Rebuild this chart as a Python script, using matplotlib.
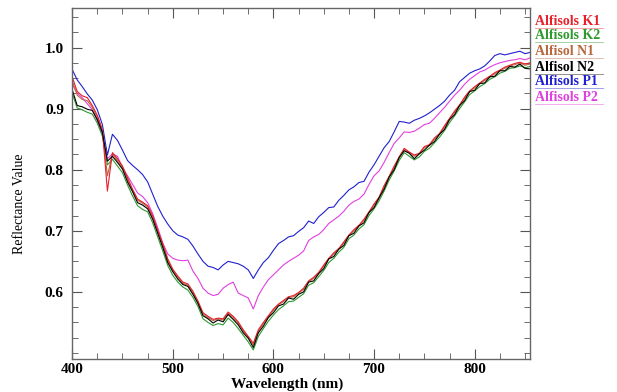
import matplotlib
matplotlib.use("Agg")
import matplotlib.pyplot as plt
from matplotlib.ticker import MultipleLocator
from matplotlib.lines import Line2D

# wavelength sampling (nm)
wavelength = list(range(400, 860, 5))

k1 = [0.952, 0.928, 0.921, 0.918, 0.905, 0.889, 0.866, 0.765, 0.828, 0.818,
      0.806, 0.787, 0.768, 0.752, 0.747, 0.741, 0.725, 0.701, 0.679, 0.654,
      0.637, 0.626, 0.616, 0.613, 0.601, 0.585, 0.566, 0.560, 0.555, 0.557,
      0.556, 0.567, 0.560, 0.551, 0.538, 0.527, 0.516, 0.538, 0.550, 0.561,
      0.572, 0.580, 0.586, 0.592, 0.594, 0.599, 0.606, 0.618, 0.624, 0.632,
      0.644, 0.655, 0.664, 0.671, 0.682, 0.693, 0.702, 0.709, 0.719, 0.731,
      0.744, 0.755, 0.774, 0.789, 0.806, 0.821, 0.835, 0.829, 0.824, 0.827,
      0.838, 0.841, 0.852, 0.859, 0.872, 0.884, 0.896, 0.906, 0.919, 0.929,
      0.936, 0.942, 0.948, 0.953, 0.959, 0.963, 0.968, 0.971, 0.974, 0.976,
      0.973, 0.975]

k2 = [0.925, 0.901, 0.898, 0.894, 0.891, 0.876, 0.855, 0.808, 0.817, 0.806,
      0.795, 0.775, 0.757, 0.741, 0.735, 0.731, 0.713, 0.690, 0.667, 0.643,
      0.627, 0.616, 0.608, 0.603, 0.591, 0.576, 0.556, 0.550, 0.545, 0.548,
      0.546, 0.557, 0.550, 0.540, 0.529, 0.518, 0.505, 0.527, 0.540, 0.552,
      0.562, 0.571, 0.577, 0.584, 0.585, 0.591, 0.597, 0.611, 0.615, 0.625,
      0.635, 0.648, 0.655, 0.665, 0.673, 0.687, 0.693, 0.703, 0.710, 0.725,
      0.736, 0.749, 0.765, 0.783, 0.798, 0.815, 0.828, 0.822, 0.816, 0.821,
      0.830, 0.835, 0.844, 0.853, 0.864, 0.877, 0.888, 0.900, 0.911, 0.923,
      0.929, 0.936, 0.941, 0.948, 0.952, 0.958, 0.961, 0.966, 0.967, 0.970,
      0.967, 0.969]

n1 = [0.946, 0.922, 0.915, 0.913, 0.902, 0.886, 0.863, 0.790, 0.826, 0.815,
      0.804, 0.784, 0.766, 0.750, 0.745, 0.739, 0.722, 0.699, 0.676, 0.652,
      0.635, 0.624, 0.614, 0.611, 0.599, 0.583, 0.564, 0.558, 0.553, 0.556,
      0.554, 0.565, 0.558, 0.549, 0.536, 0.526, 0.513, 0.536, 0.548, 0.559,
      0.570, 0.579, 0.584, 0.591, 0.592, 0.598, 0.604, 0.617, 0.622, 0.631,
      0.642, 0.654, 0.662, 0.670, 0.680, 0.692, 0.700, 0.708, 0.717, 0.730,
      0.742, 0.754, 0.772, 0.788, 0.804, 0.820, 0.833, 0.828, 0.822, 0.826,
      0.836, 0.840, 0.850, 0.858, 0.870, 0.883, 0.894, 0.905, 0.917, 0.928,
      0.934, 0.941, 0.946, 0.952, 0.957, 0.962, 0.966, 0.970, 0.972, 0.975,
      0.971, 0.973]

n2 = [0.931, 0.905, 0.903, 0.899, 0.897, 0.882, 0.861, 0.814, 0.822, 0.812,
      0.801, 0.780, 0.764, 0.746, 0.742, 0.736, 0.719, 0.696, 0.673, 0.648,
      0.633, 0.621, 0.612, 0.609, 0.596, 0.581, 0.561, 0.556, 0.549, 0.554,
      0.551, 0.563, 0.555, 0.546, 0.533, 0.524, 0.509, 0.533, 0.544, 0.558,
      0.566, 0.577, 0.580, 0.590, 0.588, 0.596, 0.600, 0.616, 0.618, 0.630,
      0.638, 0.654, 0.658, 0.670, 0.676, 0.692, 0.696, 0.708, 0.713, 0.730,
      0.738, 0.754, 0.768, 0.788, 0.800, 0.820, 0.831, 0.827, 0.818, 0.826,
      0.832, 0.840, 0.846, 0.858, 0.866, 0.882, 0.890, 0.905, 0.913, 0.928,
      0.930, 0.941, 0.942, 0.952, 0.953, 0.962, 0.962, 0.969, 0.968, 0.973,
      0.966, 0.965]

p1 = [0.964, 0.947, 0.936, 0.924, 0.914, 0.898, 0.874, 0.824, 0.858, 0.848,
      0.832, 0.815, 0.807, 0.800, 0.792, 0.780, 0.760, 0.740, 0.724, 0.711,
      0.700, 0.693, 0.690, 0.686, 0.675, 0.662, 0.650, 0.642, 0.640, 0.636,
      0.644, 0.650, 0.648, 0.646, 0.642, 0.636, 0.622, 0.636, 0.648, 0.656,
      0.668, 0.679, 0.684, 0.690, 0.692, 0.699, 0.705, 0.716, 0.712, 0.723,
      0.730, 0.738, 0.739, 0.750, 0.758, 0.767, 0.772, 0.779, 0.781, 0.796,
      0.808, 0.822, 0.836, 0.846, 0.862, 0.879, 0.878, 0.876, 0.881, 0.884,
      0.888, 0.893, 0.899, 0.905, 0.912, 0.922, 0.930, 0.944, 0.951, 0.958,
      0.962, 0.965, 0.970, 0.978, 0.987, 0.990, 0.988, 0.990, 0.992, 0.994,
      0.990, 0.992]

p2 = [0.940, 0.925, 0.918, 0.908, 0.898, 0.880, 0.858, 0.818, 0.826, 0.822,
      0.803, 0.790, 0.776, 0.762, 0.756, 0.746, 0.728, 0.705, 0.680, 0.662,
      0.655, 0.652, 0.651, 0.652, 0.634, 0.622, 0.606, 0.598, 0.594, 0.596,
      0.606, 0.612, 0.616, 0.598, 0.594, 0.590, 0.572, 0.594, 0.608, 0.620,
      0.628, 0.636, 0.644, 0.650, 0.655, 0.660, 0.667, 0.684, 0.690, 0.694,
      0.702, 0.712, 0.718, 0.724, 0.732, 0.742, 0.748, 0.752, 0.760, 0.776,
      0.790, 0.798, 0.812, 0.828, 0.843, 0.852, 0.862, 0.861, 0.863, 0.868,
      0.874, 0.876, 0.884, 0.893, 0.902, 0.912, 0.922, 0.930, 0.940, 0.948,
      0.954, 0.960, 0.963, 0.968, 0.972, 0.975, 0.977, 0.979, 0.980, 0.982,
      0.980, 0.983]

labels = ["Alfisols K1", "Alfisols K2", "Alfisol N1", "Alfisol N2",
          "Alfisols P1", "Alfisols P2"]
colors = ["#e8202a", "#2e9a2e", "#b8683f", "#000000", "#2020d0", "#e040e0"]
series = [k1, k2, n1, n2, p1, p2]

plt.rcParams['font.family'] = ['Liberation Serif', 'DejaVu Serif']

fig = plt.figure(figsize=(6.17, 3.92), dpi=100)
ax = fig.add_axes([0.117, 0.084, 0.742, 0.896])

# draw order: P1, P2 behind, then the four close spectra
for i in [4, 5, 1, 2, 0, 3]:
    ax.plot(wavelength, series[i], color=colors[i], lw=0.8)

ax.set_xlim(400, 855)
ax.set_ylim(0.49, 1.065)
ax.xaxis.set_major_locator(MultipleLocator(100))
ax.xaxis.set_minor_locator(MultipleLocator(25))
ax.yaxis.set_major_locator(MultipleLocator(0.1))
ax.yaxis.set_minor_locator(MultipleLocator(0.025))
ax.tick_params(which='both', direction='in', top=True, right=True,
               color='#555555', labelsize=11)
ax.tick_params(axis='x', pad=3)
ax.tick_params(axis='y', pad=6)
ax.tick_params(which='major', length=7)
ax.tick_params(which='minor', length=4)
ax.set_xticks([400, 500, 600, 700, 800])
ax.set_xticklabels(["400", "500", "600", "700", "800"], fontweight='bold')
ax.set_yticks([0.6, 0.7, 0.8, 0.9, 1.0])
ax.set_yticklabels(["0.6", "0.7", "0.8", "0.9", "1.0"], fontweight='bold')
for s in ax.spines.values():
    s.set_color('#666666')
    s.set_linewidth(1.0)

fig.text(0.465, 0.02, "Wavelength (nm)", ha='center', va='center',
         fontsize=11, fontweight='bold')
fig.text(0.032, 0.48, "Reflectance Value", ha='center', va='center',
         rotation=90, fontsize=10)

# coloured labels on the right side
ys = [21.7, 35.7, 51.7, 67.7, 81.7, 97.7]
for lab, col, y in zip(labels, colors, ys):
    fig.text(535 / 617, 1 - y / 392, lab, color=col, fontsize=10,
             fontweight='bold', ha='left', va='center')
    fig.add_artist(Line2D([535 / 617, 603 / 617],
                          [1 - (y + 6) / 392, 1 - (y + 6) / 392],
                          color=col, lw=0.6, alpha=0.5))

fig.savefig("out.png", dpi=100)
